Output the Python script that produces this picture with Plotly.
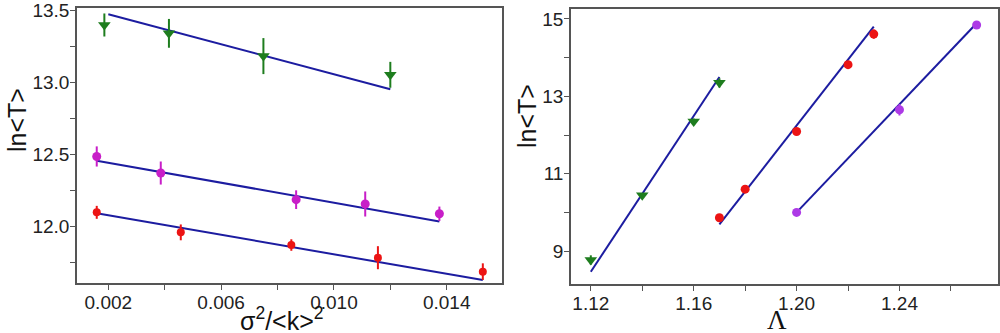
import plotly.graph_objects as go

# ---------------- Left panel data: ln<T> vs sigma^2/<k>^2 ----------------
green_x = [0.00186, 0.00415, 0.0075, 0.0120]
green_y = [13.396, 13.338, 13.18, 13.05]
green_err = [0.08, 0.10, 0.125, 0.09]
green_fit_x = [0.0020, 0.0120]
green_fit_y = [13.47, 12.95]

mag_x = [0.00159, 0.00386, 0.00866, 0.01111, 0.01374]
mag_y = [12.483, 12.368, 12.183, 12.153, 12.085]
mag_err = [0.07, 0.08, 0.065, 0.087, 0.05]
mag_fit_x = [0.00159, 0.01374]
mag_fit_y = [12.454, 12.032]

red_x = [0.00159, 0.00457, 0.00849, 0.01156, 0.01528]
red_y = [12.095, 11.956, 11.868, 11.78, 11.683]
red_err = [0.045, 0.055, 0.04, 0.08, 0.058]
red_fit_x = [0.00159, 0.01528]
red_fit_y = [12.088, 11.625]

left_xticks = [0.002, 0.004, 0.006, 0.008, 0.010, 0.012, 0.014]
left_xlabels = ["0.002", "", "0.006", "", "0.010", "", "0.014"]
left_yticks = [11.75, 12.0, 12.25, 12.5, 12.75, 13.0, 13.25, 13.5]
left_ylabels = ["", "12.0", "", "12.5", "", "13.0", "", "13.5"]

# ---------------- Right panel data: ln<T> vs Lambda ----------------
rg_x = [1.12, 1.14, 1.16, 1.17]
rg_y = [8.77, 10.44, 12.35, 13.35]
rg_err = [0.12, 0.06, 0.08, 0.12]
rg_fit_x = [1.12, 1.17]
rg_fit_y = [8.465, 13.50]

rr_x = [1.17, 1.18, 1.20, 1.22, 1.23]
rr_y = [9.86, 10.60, 12.09, 13.82, 14.61]
rr_err = [0.06, 0.05, 0.06, 0.08, 0.12]
rr_fit_x = [1.17, 1.23]
rr_fit_y = [9.69, 14.80]

rp_x = [1.20, 1.24, 1.27]
rp_y = [10.0, 12.655, 14.845]
rp_err = [0.04, 0.15, 0.05]
rp_fit_x = [1.20, 1.27]
rp_fit_y = [10.0, 14.89]

right_xticks = [1.12, 1.14, 1.16, 1.18, 1.20, 1.22, 1.24, 1.26]
right_xlabels = ["1.12", "", "1.16", "", "1.20", "", "1.24", ""]
right_yticks = [9, 10, 11, 12, 13, 14, 15]
right_ylabels = ["9", "", "11", "", "13", "", "15"]

GREEN = "#1e7d1e"
MAG = "#c81ec8"
RED = "#ec1414"
PURPLE = "#ad3ae6"
LINE = "#1c1ca0"

fig = go.Figure()


def add_points(x, y, err, color, symbol, size, xa, ya):
    fig.add_trace(go.Scatter(
        x=x, y=y, mode="markers", xaxis=xa, yaxis=ya,
        marker=dict(color=color, symbol=symbol, size=size, line=dict(width=0)),
        error_y=dict(type="data", array=err, color=color, thickness=2, width=0),
        showlegend=False))


def add_line(x, y, xa, ya):
    fig.add_trace(go.Scatter(
        x=x, y=y, mode="lines", xaxis=xa, yaxis=ya,
        line=dict(color=LINE, width=2), showlegend=False))


add_line(green_fit_x, green_fit_y, "x", "y")
add_line(mag_fit_x, mag_fit_y, "x", "y")
add_line(red_fit_x, red_fit_y, "x", "y")
add_points(green_x, green_y, green_err, GREEN, "triangle-down", 11, "x", "y")
add_points(mag_x, mag_y, mag_err, MAG, "circle", 9, "x", "y")
add_points(red_x, red_y, red_err, RED, "circle", 8, "x", "y")

add_line(rg_fit_x, rg_fit_y, "x2", "y2")
add_line(rr_fit_x, rr_fit_y, "x2", "y2")
add_line(rp_fit_x, rp_fit_y, "x2", "y2")
add_points(rg_x, rg_y, rg_err, GREEN, "triangle-down", 11, "x2", "y2")
add_points(rr_x, rr_y, rr_err, RED, "circle", 9, "x2", "y2")
add_points(rp_x, rp_y, rp_err, PURPLE, "circle", 9, "x2", "y2")

axis_common = dict(showline=True, mirror=True, linecolor="#555555", linewidth=1.5,
                   ticks="outside", ticklen=5, tickwidth=1.2, tickcolor="#555555",
                   showgrid=False, zeroline=False, ticklabeloverflow="allow",
                   automargin=False,
                   tickfont=dict(family="Liberation Sans, Arial", size=19, color="#222222"))

fig.update_layout(
    width=1000, height=333,
    margin=dict(l=0, r=0, t=0, b=0),
    paper_bgcolor="white", plot_bgcolor="white",
    xaxis=dict(domain=[0.077, 0.502], range=[0.00089, 0.01596], anchor="y",
               tickmode="array", tickvals=left_xticks, ticktext=left_xlabels,
               ticklabelstandoff=-4, **axis_common),
    yaxis=dict(domain=[0.150, 0.976], range=[11.604, 13.514], anchor="x",
               tickmode="array", tickvals=left_yticks, ticktext=left_ylabels,
               ticklabelstandoff=-3, **axis_common),
    xaxis2=dict(domain=[0.571, 0.998], range=[1.1123, 1.2783], anchor="y2",
                tickmode="array", tickvals=right_xticks, ticktext=right_xlabels,
                ticklabelstandoff=-4, **axis_common),
    yaxis2=dict(domain=[0.147, 0.972], range=[8.147, 15.25], anchor="x2",
                tickmode="array", tickvals=right_yticks, ticktext=right_ylabels,
                ticklabelstandoff=-3, **axis_common),
)

title_font = dict(family="Liberation Sans, Arial", size=25, color="#111111")


def ann(text, px, py, font, angle=0, yanchor="middle"):
    fig.add_annotation(text=text, x=px / 1000, y=1 - py / 333, xref="paper", yref="paper",
                       showarrow=False, font=font, textangle=angle,
                       xanchor="center", yanchor=yanchor)


ann("ln&lt;T&gt;", 17, 120, title_font, -90)
ann("ln&lt;T&gt;", 527, 116, title_font, -90)
ann("σ<sup>2</sup>/&lt;k&gt;<sup>2</sup>", 282, 337, title_font, yanchor="bottom")
ann("Λ", 777, 337, dict(family="Liberation Serif, DejaVu Serif", size=27, color="#111111"),
    yanchor="bottom")

fig.write_html("out.html")
